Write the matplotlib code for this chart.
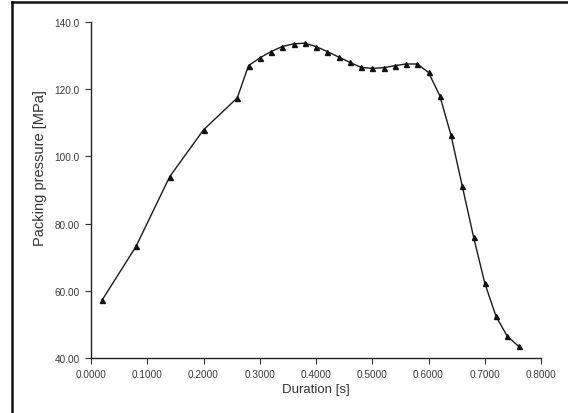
import matplotlib
matplotlib.use("Agg")
import matplotlib.pyplot as plt
from matplotlib.lines import Line2D

duration = [0.02, 0.08, 0.14, 0.20, 0.26, 0.28, 0.30, 0.32, 0.34, 0.36, 0.38,
            0.40, 0.42, 0.44, 0.46, 0.48, 0.50, 0.52, 0.54, 0.56, 0.58,
            0.60, 0.62, 0.64, 0.66, 0.68, 0.70, 0.72, 0.74, 0.76]
pressure = [57.3, 73.2, 94.0, 107.9, 117.4, 127.0, 129.3, 131.2, 132.7, 133.5, 133.7,
            132.7, 131.2, 129.6, 128.0, 126.5, 126.2, 126.4, 127.0, 127.5, 127.5,
            125.0, 118.1, 106.3, 91.2, 76.1, 62.3, 52.4, 46.5, 43.5]

xticks = [0.0, 0.1, 0.2, 0.3, 0.4, 0.5, 0.6, 0.7, 0.8]
xticklabels = ["0.0000", "0.1000", "0.2000", "0.3000", "0.4000", "0.5000",
               "0.6000", "0.7000", "0.8000"]
yticks = [40, 60, 80, 100, 120, 140]
yticklabels = ["40.00", "60.00", "80.00", "100.0", "120.0", "140.0"]

plt.rcParams['font.family'] = ['Liberation Sans', 'DejaVu Sans']

W, H = 568, 414
fig = plt.figure(figsize=(W / 100, H / 100), dpi=100)
fig.patch.set_facecolor("white")

ax = fig.add_axes([91 / W, 1 - 359 / H, (541 - 91) / W, (359 - 23) / H])
ax.plot(duration, pressure, color="#1a1a1a", lw=1.0, marker="^", markersize=3.6,
        markerfacecolor="#111111", markeredgecolor="#111111")

ax.set_xlim(0, 0.8)
ax.set_ylim(40, 140)
ax.set_xticks(xticks)
ax.set_xticklabels(xticklabels)
ax.set_yticks(yticks)
ax.set_yticklabels(yticklabels)

for s in ["top", "right"]:
    ax.spines[s].set_visible(False)
for s in ["left", "bottom"]:
    ax.spines[s].set_color("#222222")
    ax.spines[s].set_linewidth(1.0)

ax.tick_params(axis="both", direction="out", length=4, width=0.8, color="#333333",
               labelcolor="#3a3a3a", labelsize=7.2, pad=4)

ax.set_xlabel("Duration [s]", fontsize=9.5, color="#333333", labelpad=3)
fig.text(40 / W, 1 - 168 / H, "Packing pressure [MPa]", rotation=90,
         fontsize=10.5, color="#333333", ha="center", va="center")

# outer frame lines (left and top)
fig.add_artist(Line2D([11.5 / W, 11.5 / W], [0, 1 - 3 / H], transform=fig.transFigure,
                      color="#111111", lw=1.8))
fig.add_artist(Line2D([11.5 / W, 1], [1 - 3 / H, 1 - 3 / H], transform=fig.transFigure,
                      color="#111111", lw=1.8))

fig.savefig("out.png", dpi=100)
